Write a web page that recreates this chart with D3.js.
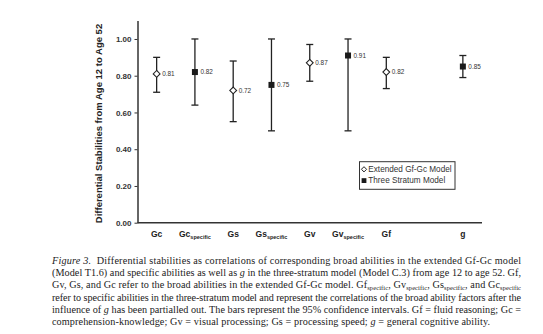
<!DOCTYPE html>
<html><head><meta charset="utf-8">
<script src="https://cdn.jsdelivr.net/npm/d3@7"></script>
<style>
html,body{margin:0;padding:0;background:#fff;}
svg{display:block;}
</style></head>
<body>
<script>
// ---- data ----
const categories = ["Gc", "Gc_specific", "Gs", "Gs_specific", "Gv", "Gv_specific", "Gf", "", "g"];
const values = [0.81, 0.82, 0.72, 0.75, 0.87, 0.91, 0.82, null, 0.85];
const lowerCI = [0.71, 0.64, 0.55, 0.50, 0.77, 0.50, 0.73, null, 0.79];
const upperCI = [0.90, 1.00, 0.88, 1.00, 0.97, 1.00, 0.90, null, 0.91];
const models = ["Extended Gf-Gc Model", "Three Stratum Model", "Extended Gf-Gc Model", "Three Stratum Model",
                "Extended Gf-Gc Model", "Three Stratum Model", "Extended Gf-Gc Model", null, "Three Stratum Model"];
const legendLabels = ["Extended Gf-Gc Model", "Three Stratum Model"];
const yTicks = [0, 0.2, 0.4, 0.6, 0.8, 1.0];
const yTitle = "Differential Stabilities from Age 12 to Age 52";
// caption lines: segments [text, style]  (i = italic, s = subscript)
const captionLines = [
  [["Figure 3.", "i"], ["  Differential stabilities as correlations of corresponding broad abilities in the extended Gf-Gc model", ""]],
  [["(Model T1.6) and specific abilities as well as ", ""], ["g", "i"], [" in the three-stratum model (Model C.3) from age 12 to age 52. Gf,", ""]],
  [["Gv, Gs, and Gc refer to the broad abilities in the extended Gf-Gc model. Gf", ""], ["specific", "s"], [", Gv", ""], ["specific", "s"], [", Gs", ""], ["specific", "s"], [", and Gc", ""], ["specific", "s"]],
  [["refer to specific abilities in the three-stratum model and represent the correlations of the broad ability factors after the", ""]],
  [["influence of ", ""], ["g", "i"], [" has been partialled out. The bars represent the 95% confidence intervals. Gf = fluid reasoning; Gc =", ""]],
  [["comprehension-knowledge; Gv = visual processing; Gs = processing speed; ", ""], ["g", "i"], [" = general cognitive ability.", ""]]
];

// ---- layout ----
const W = 543, H = 334;
const svg = d3.select("body").append("svg").attr("width", W).attr("height", H);
const sans = "Liberation Sans, Arial, sans-serif";
const serif = "Liberation Serif, Times New Roman, serif";

const x = d3.scaleBand().domain(categories.map((c, i) => i)).range([137.5, 482]).padding(0);
const y = d3.scaleLinear().domain([0, 1.1]).range([222.7, 20.6]);
const cx = i => x(i) + x.bandwidth() / 2;

// y axis
const yAxis = svg.append("g").attr("transform", `translate(${x.range()[0]},0)`)
  .call(d3.axisLeft(y).tickValues(yTicks).tickFormat(d3.format(".2f")).tickSize(3).tickSizeOuter(0).tickPadding(3));
yAxis.select(".domain").attr("stroke", "#333").attr("stroke-width", 1.5);
yAxis.selectAll(".tick line").attr("stroke", "#333").attr("stroke-width", 1);
yAxis.selectAll(".tick text").attr("font-family", sans).attr("font-weight", "bold")
  .attr("font-size", 8).attr("fill", "#333");

// x axis line
svg.append("line").attr("x1", x.range()[0]).attr("x2", x.range()[1])
  .attr("y1", y(0)).attr("y2", y(0)).attr("stroke", "#333").attr("stroke-width", 1.5);

// x category labels
categories.forEach((c, i) => {
  if (!c) return;
  const parts = c.split("_");
  const t = svg.append("text").attr("x", cx(i)).attr("y", 236.5).attr("text-anchor", "middle")
    .attr("font-family", sans).attr("font-weight", "bold").attr("font-size", 8.5).attr("fill", "#222");
  t.append("tspan").text(parts[0]);
  if (parts[1]) t.append("tspan").attr("font-size", 5.5).attr("dy", 2).text(parts[1]);
});

// y title
svg.append("text").attr("transform", `translate(102,${(23 + 224) / 2}) rotate(-90)`)
  .attr("text-anchor", "middle").attr("font-family", sans).attr("font-weight", "bold")
  .attr("font-size", 9.5).attr("fill", "#222").text(yTitle);

// error bars + markers
const diamond = (px, py, r) => `M${px},${py - r}L${px + r},${py}L${px},${py + r}L${px - r},${py}Z`;
const pts = categories.map((c, i) => ({ i, v: values[i], lo: lowerCI[i], hi: upperCI[i], m: models[i] })).filter(d => d.v != null);
const g = svg.append("g");
pts.forEach(d => {
  const px = cx(d.i);
  g.append("line").attr("x1", px).attr("x2", px).attr("y1", y(d.lo)).attr("y2", y(d.hi)).attr("stroke", "#222").attr("stroke-width", 1.3);
  [d.lo, d.hi].forEach(v => g.append("line").attr("x1", px - 3.5).attr("x2", px + 3.5).attr("y1", y(v)).attr("y2", y(v))
    .attr("stroke", "#222").attr("stroke-width", 1.3));
  if (d.m === legendLabels[0]) {
    g.append("path").attr("d", diamond(px, y(d.v), 3.4)).attr("fill", "#fff").attr("stroke", "#222").attr("stroke-width", 1.1);
  } else {
    g.append("rect").attr("x", px - 3).attr("y", y(d.v) - 3).attr("width", 6).attr("height", 6).attr("fill", "#1a1a1a");
  }
  g.append("text").attr("x", px + 5.5).attr("y", y(d.v)).attr("dy", "0.35em")
    .attr("font-family", sans).attr("font-size", 6.4).attr("fill", "#333").text(d3.format(".2f")(d.v));
});

// legend
const lg = svg.append("g");
lg.append("rect").attr("x", 359.5).attr("y", 161.7).attr("width", 95.5).attr("height", 27.6)
  .attr("fill", "#fff").attr("stroke", "#333").attr("stroke-width", 1);
legendLabels.forEach((l, k) => {
  const ly = 169.3 + k * 11.3;
  if (k === 0) lg.append("path").attr("d", diamond(364, ly, 2.6)).attr("fill", "#fff").attr("stroke", "#222").attr("stroke-width", 1);
  else lg.append("rect").attr("x", 361.6).attr("y", ly - 2.4).attr("width", 4.8).attr("height", 4.8).attr("fill", "#1a1a1a");
  lg.append("text").attr("x", 368.3).attr("y", ly).attr("dy", "0.35em").attr("font-family", sans)
    .attr("font-size", 8.2).attr("fill", "#333").text(l);
});

// caption
captionLines.forEach((segs, li) => {
  const last = li === captionLines.length - 1;
  const t = svg.append("text").attr("x", 52).attr("y", 264 + li * 12.2)
    .attr("font-family", serif).attr("font-size", 10.2).attr("fill", "#222")
    .attr("xml:space", "preserve").style("white-space", "pre")
    .attr("textLength", last ? 438 : 469).attr("lengthAdjust", "spacing");
  let sub = false;
  segs.forEach(([txt, st]) => {
    const s = t.append("tspan").text(txt);
    if (st === "i") s.attr("font-style", "italic");
    if (st === "s") { s.attr("font-size", 6.5).attr("dy", 1.8); sub = true; }
    else if (sub) { s.attr("dy", -1.8); sub = false; }
  });
});
</script>
</body></html>
